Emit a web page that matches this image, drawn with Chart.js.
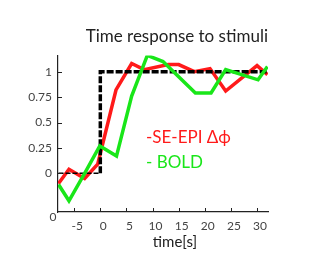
<!DOCTYPE html>
<html>
<head>
<meta charset="utf-8">
<script src="https://cdn.jsdelivr.net/npm/chart.js@4.4.0/dist/chart.umd.min.js"></script>
<style>
  html, body { margin: 0; padding: 0; background: #fff; }
  #wrap { width: 335px; height: 266px; }
</style>
</head>
<body>
<div id="wrap"><canvas id="respChart"></canvas></div>
<script>
// values
const redTime  = [-8, -6, -3, -0.5, 3, 6, 8.4, 13, 15, 18, 21, 24, 30, 32];
const redVal   = [-0.1, 0.04, -0.05, 0.09, 0.82, 1.08, 1.02, 1.07, 1.07, 1.0, 1.03, 0.81, 1.06, 0.97];
const greenTime = [-8, -6, -3, -0.1, 3.1, 6, 9, 12, 18.2, 21.2, 24, 30.2, 32];
const greenVal  = [-0.11, -0.27, 0.0, 0.27, 0.17, 0.76, 1.16, 1.1, 0.79, 0.79, 1.02, 0.92, 1.05];
const stimBaseTime = [-8, 0];
const stimBaseVal  = [0, 0];
const stimOnTime = [0, 0, 32];
const stimOnVal  = [0, 1, 1];
const xTicks = [-5, 0, 5, 10, 15, 20, 25, 30];
const yTicks = [0, 0.25, 0.5, 0.75, 1];
const legendLabels = ["-SE-EPI \u0394\u03d5", "- BOLD"];
const xTitle = "time[s]";

const pts = (xs, ys) => xs.map((x, i) => ({x: x, y: ys[i]}));
const fontFam = "Lato, 'Open Sans', sans-serif";

// inward tick marks, stray corner zero, axis title and the text legend
const extras = {
  id: "extras",
  afterDraw(chart) {
    const c = chart.ctx;
    const xs = chart.scales.x, ys = chart.scales.y;
    const a = chart.chartArea;
    c.save();
    c.strokeStyle = "#222";
    c.lineWidth = 1;
    xTicks.forEach(v => {
      const px = Math.round(xs.getPixelForValue(v)) + 0.5;
      c.beginPath(); c.moveTo(px, a.bottom); c.lineTo(px, a.bottom - 4); c.stroke();
    });
    yTicks.forEach(v => {
      const py = Math.round(ys.getPixelForValue(v)) + 0.5;
      c.beginPath(); c.moveTo(a.left, py); c.lineTo(a.left + 4, py); c.stroke();
    });
    c.fillStyle = "#444";
    c.font = "12px " + fontFam;
    c.textAlign = "center";
    c.textBaseline = "middle";
    c.fillText("0", a.left - 5, a.bottom + 5);

    c.fillStyle = "#222";
    c.font = "15px " + fontFam;
    c.fillText(xTitle, a.left + 117, a.bottom + 30);

    c.font = "17px " + fontFam;
    c.textAlign = "left";
    c.textBaseline = "alphabetic";
    c.fillStyle = "#ff1a1a";
    c.fillText(legendLabels[0], 146, 143);
    c.fillStyle = "#19e619";
    c.fillText(legendLabels[1], 146, 168);
    c.restore();
  }
};

new Chart(document.getElementById("respChart"), {
  type: "line",
  data: {
    datasets: [
      { data: pts(greenTime, greenVal), borderColor: "#19e619", borderWidth: 3.5, order: 0 },
      { data: pts(stimOnTime, stimOnVal), borderColor: "#000", borderWidth: 3.5, borderDash: [7, 2], order: 1 },
      { data: pts(stimBaseTime, stimBaseVal), borderColor: "#000", borderWidth: 1.5, borderDash: [5, 2], order: 1 },
      { data: pts(redTime, redVal), borderColor: "#ff1a1a", borderWidth: 3.5, order: 2 }
    ]
  },
  options: {
    responsive: true,
    maintainAspectRatio: false,
    animation: false,
    layout: { padding: { left: 0, right: 67, top: 0, bottom: 0 } },
    elements: { point: { radius: 0 }, line: { tension: 0 } },
    plugins: {
      legend: { display: false },
      tooltip: { enabled: false },
      title: {
        display: true,
        text: "Time response to stimuli",
        align: "end",
        color: "#222",
        font: { family: fontFam, size: 17, weight: "normal" },
        padding: { top: 26, bottom: 9 }
      }
    },
    scales: {
      x: {
        type: "linear",
        min: -8.1, max: 32.1,
        afterBuildTicks: s => { s.ticks = xTicks.map(v => ({value: v})); },
        afterFit: s => { s.height = 54; },
        grid: { display: false, drawTicks: false },
        border: { color: "#222", width: 1.2 },
        ticks: { color: "#444", padding: 7, labelOffset: 3, font: { family: fontFam, size: 12 } }
      },
      y: {
        min: -0.38, max: 1.16,
        afterBuildTicks: s => { s.ticks = yTicks.map(v => ({value: v})); },
        afterFit: s => { s.width = 58; },
        grid: { display: false, drawTicks: false },
        border: { color: "#222", width: 1.2 },
        ticks: { color: "#444", padding: 6, callback: v => String(v), font: { family: fontFam, size: 12 } }
      }
    }
  },
  plugins: [extras]
});
</script>
</body>
</html>
